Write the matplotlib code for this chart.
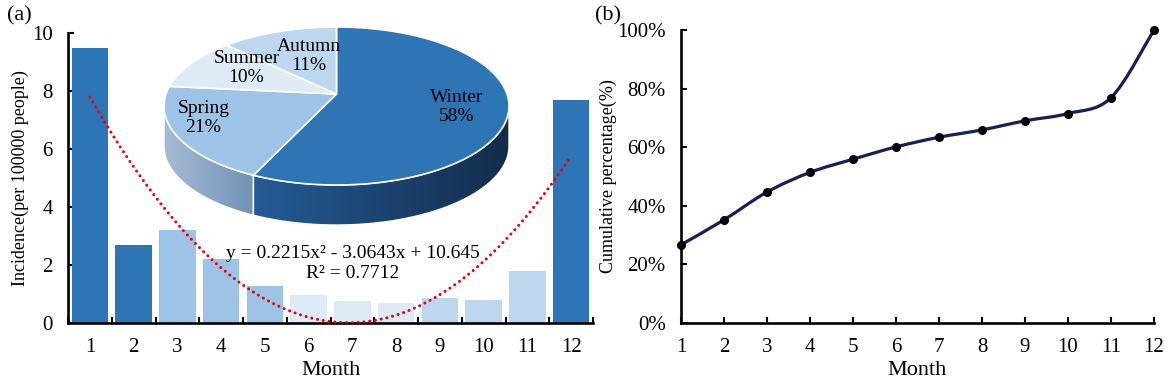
import numpy as np
import matplotlib
matplotlib.use("Agg")
import matplotlib.pyplot as plt
from matplotlib.path import Path
from matplotlib.patches import Polygon, PathPatch
from matplotlib.colors import LinearSegmentedColormap
from matplotlib.ticker import PercentFormatter, FixedLocator

plt.rcParams["font.family"] = ["Liberation Serif", "DejaVu Serif"]

# ---- data ----
months = np.arange(1, 13)
incidence = [9.47, 2.68, 3.20, 2.19, 1.28, 0.96, 0.76, 0.69, 0.87, 0.81, 1.79, 7.69]
bar_colors = ["#2E75B6", "#2E75B6", "#9DC3E6", "#9DC3E6", "#9DC3E6", "#DEEBF7",
              "#DEEBF7", "#DEEBF7", "#BDD7EE", "#BDD7EE", "#BDD7EE", "#2E75B6"]
cumulative = [0.267, 0.352, 0.447, 0.514, 0.559, 0.601, 0.634, 0.659, 0.690, 0.715, 0.769, 1.000]

seasons = ["Winter", "Spring", "Summer", "Autumn"]
season_pct = [58, 21, 10, 11]
season_colors = ["#2E75B6", "#9DC3E6", "#DEEBF7", "#BDD7EE"]
side_colors = {"Winter": ("#245C97", "#132C4A"), "Spring": ("#A6BCD6", "#7291B5")}

eq_text = "y = 0.2215x\u00b2 - 3.0643x + 10.645"
r2_text = "R\u00b2 = 0.7712"

W, H = 1170, 384
fig = plt.figure(figsize=(W / 100, H / 100), dpi=100)


def px_rect(x0, y0, x1, y1):
    return [x0 / W, 1 - y1 / H, (x1 - x0) / W, (y1 - y0) / H]


def style_axes(ax):
    for s in ["top", "right"]:
        ax.spines[s].set_visible(False)
    for s in ["left", "bottom"]:
        ax.spines[s].set_linewidth(1.9)
        ax.spines[s].set_color("black")
    ax.tick_params(which="both", direction="in", width=1.5, length=4,
                   labelsize=15, colors="black")


# ---- (a) bars ----
ax1 = fig.add_axes(px_rect(68, 33, 593, 323))
ax1.bar(months, incidence, width=0.83, color=bar_colors, zorder=2)
coef = np.polyfit(months, incidence, 2)
xs = np.linspace(1, 12, 300)
ax1.plot(xs, np.polyval(coef, xs), color="#E8000B", lw=2.2,
         linestyle=(0, (0.01, 1.9)), dash_capstyle="round", zorder=3)
ax1.set_xlim(0.5, 12.5)
ax1.set_ylim(0, 10)
ax1.set_yticks([0, 2, 4, 6, 8, 10])
ax1.set_xticks(months)
ax1.xaxis.set_minor_locator(FixedLocator(np.arange(0.5, 13, 1)))
style_axes(ax1)
ax1.tick_params(axis="x", which="major", length=0, pad=11)
ax1.tick_params(axis="y", pad=11)
ax1.set_xlabel("Month", fontsize=16, labelpad=3)
ax1.set_ylabel("Incidence(per 100000 people)", fontsize=13, labelpad=2)
ax1.text(7.0, 2.4, eq_text, ha="center", va="center", fontsize=14, zorder=4)
ax1.text(7.0, 1.7, r2_text, ha="center", va="center", fontsize=14, zorder=4)
fig.text(7 / W, 1 - 16 / H, "(a)", fontsize=16, va="center", ha="left")

# ---- (a) 3D pie inset, coordinates in pixels around pie centre ----
axp = fig.add_axes(px_rect(146.5, 0, 526.5, 240))
axp.axis("off")
a, b, depth = 172.5, 79.0, 40.0
apex = (0.0, 12.0)

bounds = [90.0]
for p in season_pct:
    bounds.append(bounds[-1] - 360.0 * p / sum(season_pct))

for name, t0, t1, col in zip(seasons, bounds[:-1], bounds[1:], season_colors):
    # side (only the front half is visible)
    lo, hi = t1 % 360, t0 % 360
    if hi <= lo:
        hi += 360
    s0, s1 = max(lo, 180.0), min(hi, 360.0)
    if s1 > s0:
        tt = np.radians(np.linspace(s0, s1, 120))
        top = np.column_stack([a * np.cos(tt), b * np.sin(tt)])
        bot = top[::-1] - [0, depth]
        poly = Polygon(np.vstack([top, bot]), closed=True, facecolor="none",
                       edgecolor="white", lw=1.0, zorder=2)
        axp.add_patch(poly)
        c0, c1 = side_colors[name]
        cmap = LinearSegmentedColormap.from_list(name, [c0, c1])
        x0, x1 = top[:, 0].min(), top[:, 0].max()
        grad = np.linspace(0, 1, 256).reshape(1, -1)
        im = axp.imshow(grad, cmap=cmap, aspect="auto", zorder=1,
                        extent=[x0, x1, -b - depth - 2, b])
        im.set_clip_path(poly)
    # top face
    tt = np.radians(np.linspace(t0, t1, 200))
    arc = np.column_stack([a * np.cos(tt), b * np.sin(tt)])
    axp.add_patch(Polygon(np.vstack([[apex], arc]), closed=True, facecolor=col,
                          edgecolor="white", lw=1.2, zorder=3))

axp.set_xlim(-190, 190)
axp.set_ylim(-134, 106)

label_pos = {"Winter": (120, -1), "Spring": (-133, -12), "Summer": (-90, 38), "Autumn": (-28, 50)}
for name, p in zip(seasons, season_pct):
    x, y = label_pos[name]
    axp.text(x, y, f"{name}\n{p}%", ha="center", va="center", fontsize=14,
             linespacing=1.1, zorder=5)

# ---- (b) cumulative ----
ax2 = fig.add_axes(px_rect(681, 30, 1154, 323))
pts = np.column_stack([months, cumulative]).astype(float)
ext = np.vstack([pts[0], pts, pts[-1]])
verts, codes = [pts[0]], [Path.MOVETO]
for i in range(1, len(ext) - 2):
    p0, p1, p2, p3 = ext[i - 1], ext[i], ext[i + 1], ext[i + 2]
    verts += [p1 + (p2 - p0) / 6, p2 - (p3 - p1) / 6, p2]
    codes += [Path.CURVE4] * 3
ax2.add_patch(PathPatch(Path(verts, codes), facecolor="none", edgecolor="#14205A",
                        lw=2.3, zorder=2, clip_on=False))
ax2.plot(months, cumulative, "o", color="black", ms=5.5, zorder=3, clip_on=False)
ax2.set_xlim(1, 12)
ax2.set_ylim(0, 1.0)
ax2.set_xticks(months)
ax2.set_yticks(np.arange(0, 1.01, 0.2))
ax2.yaxis.set_major_formatter(PercentFormatter(1.0, decimals=0))
style_axes(ax2)
ax2.tick_params(axis="x", pad=11)
ax2.tick_params(axis="y", pad=11)
ax2.set_xlabel("Month", fontsize=16, labelpad=3)
ax2.set_ylabel("Cumulative percentage(%)", fontsize=13, labelpad=0)
fig.text(595 / W, 1 - 16 / H, "(b)", fontsize=16, va="center", ha="left")

fig.savefig("out.png", dpi=100)
